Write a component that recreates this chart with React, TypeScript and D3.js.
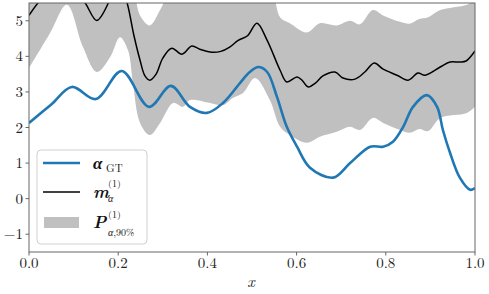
import React from 'react';
import * as d3 from 'd3';

// ground truth alpha
const alphaX = [0, 0.05, 0.096, 0.15, 0.208, 0.269, 0.318, 0.361, 0.399, 0.435, 0.473, 0.495, 0.514, 0.534, 0.556, 0.578, 0.601, 0.63, 0.682, 0.72, 0.765, 0.794, 0.816, 0.839, 0.861, 0.892, 0.915, 0.928, 0.944, 0.966, 0.989, 1.0];
const alphaY = [2.13, 2.65, 3.14, 2.8, 3.59, 2.58, 3.17, 2.58, 2.41, 2.69, 3.25, 3.56, 3.7, 3.56, 2.86, 2.02, 1.46, 0.87, 0.59, 1.0, 1.46, 1.46, 1.6, 2.02, 2.58, 2.91, 2.58, 1.93, 1.29, 0.59, 0.25, 0.3];

// posterior mean m
const meanX = [0, 0.02, 0.05, 0.1, 0.126, 0.152, 0.178, 0.19, 0.21, 0.22, 0.235, 0.249, 0.26, 0.271, 0.285, 0.3, 0.32, 0.343, 0.365, 0.383, 0.406, 0.43, 0.45, 0.469, 0.49, 0.511, 0.534, 0.563, 0.578, 0.601, 0.612, 0.626, 0.642, 0.659, 0.686, 0.704, 0.731, 0.753, 0.774, 0.794, 0.825, 0.85, 0.872, 0.888, 0.922, 0.944, 0.966, 0.98, 1.0];
const meanY = [5.15, 5.5, 5.9, 5.9, 5.5, 5.01, 5.5, 5.9, 5.8, 5.5, 4.6, 3.89, 3.45, 3.33, 3.5, 3.95, 4.23, 4.06, 4.29, 4.2, 4.12, 4.14, 4.26, 4.45, 4.58, 4.93, 4.45, 3.61, 3.28, 3.42, 3.33, 3.14, 3.25, 3.45, 3.56, 3.39, 3.36, 3.56, 3.81, 3.64, 3.47, 3.33, 3.53, 3.47, 3.7, 3.84, 3.84, 3.87, 4.15];

// 90% band
const bandX = [0, 0.047, 0.085, 0.121, 0.152, 0.182, 0.204, 0.222, 0.233, 0.249, 0.271, 0.294, 0.323, 0.345, 0.361, 0.406, 0.435, 0.457, 0.48, 0.507, 0.54, 0.563, 0.585, 0.623, 0.652, 0.69, 0.72, 0.742, 0.771, 0.794, 0.832, 0.854, 0.875, 0.895, 0.922, 0.982, 1.0];
const bandLow = [3.67, 4.65, 5.45, 4.26, 3.56, 3.98, 4.54, 4.17, 3.25, 2.13, 1.79, 2.13, 2.69, 2.58, 2.77, 2.69, 2.63, 2.83, 2.97, 3.39, 2.77, 2.02, 1.79, 1.57, 1.74, 1.88, 2.02, 1.93, 2.27, 2.13, 1.93, 1.85, 1.96, 1.9, 2.27, 2.41, 2.58];
const bandHigh = [6, 6, 6, 6, 6, 6, 6, 6, 5.9, 5.15, 4.87, 5.3, 6, 6, 6, 6, 6, 6, 6, 6, 6, 5.1, 4.93, 4.67, 4.93, 4.87, 5.0, 4.9, 5.3, 5.15, 4.97, 4.92, 5.05, 5.1, 5.3, 5.45, 5.6];

const xTicks = [0, 0.2, 0.4, 0.6, 0.8, 1.0];
const yTicks = [-1, 0, 1, 2, 3, 4, 5];

const W = 489;
const H = 294;
const M = { left: 29, right: 475, top: 3, bottom: 252 };
const SERIF = '"Latin Modern Roman", "CMU Serif", "Liberation Serif", "DejaVu Serif", serif';

export default function App() {
  const x = d3.scaleLinear().domain([0, 1]).range([M.left, M.right]);
  const y = d3.scaleLinear().domain([-1.5, 5.5]).range([M.bottom, M.top]);

  const band = d3.area<number>()
    .x((_, i) => x(bandX[i]))
    .y0((_, i) => y(bandLow[i]))
    .y1((_, i) => y(bandHigh[i]))
    .curve(d3.curveCatmullRom.alpha(0.5))(bandX);

  const meanPath = d3.line<number>()
    .x((_, i) => x(meanX[i]))
    .y((d) => y(d))
    .curve(d3.curveCatmullRom.alpha(0.5))(meanY);

  const alphaPath = d3.line<number>()
    .x((_, i) => x(alphaX[i]))
    .y((d) => y(d))
    .curve(d3.curveCatmullRom.alpha(0.5))(alphaY);

  const fmt = (v: number) => (v < 0 ? '\u2212' + Math.abs(v) : String(v));

  return (
    <svg width={W} height={H} style={{ position: 'absolute', left: 0, top: 0, background: '#fff' }}
      fontFamily={SERIF}>
      <defs>
        <clipPath id="plot">
          <rect x={M.left} y={M.top} width={M.right - M.left} height={M.bottom - M.top} />
        </clipPath>
      </defs>
      <g clipPath="url(#plot)">
        <path d={band || ''} fill="#c0c0c0" stroke="none" />
        <path d={alphaPath || ''} fill="none" stroke="#1f77b4" strokeWidth={2.6} />
        <path d={meanPath || ''} fill="none" stroke="#000" strokeWidth={1.5} />
      </g>
      <rect x={M.left} y={M.top} width={M.right - M.left} height={M.bottom - M.top}
        fill="none" stroke="#666" strokeWidth={1} />

      {xTicks.map((t) => (
        <g key={'x' + t}>
          <line x1={x(t)} x2={x(t)} y1={M.bottom} y2={M.bottom + 3.5} stroke="#666" />
          <text x={x(t)} y={268} textAnchor="middle" fontSize={15} fill="#222">{t.toFixed(1)}</text>
        </g>
      ))}
      {yTicks.map((t) => (
        <g key={'y' + t}>
          <line x1={M.left - 3.5} x2={M.left} y1={y(t)} y2={y(t)} stroke="#666" />
          <text x={23} y={y(t) + 5} textAnchor="end" fontSize={15} fill="#222">{fmt(t)}</text>
        </g>
      ))}
      <text x={251} y={287} textAnchor="middle" fontSize={16} fontStyle="italic" fill="#222">x</text>

      {/* legend */}
      <rect x={37} y={150} width={110} height={94} rx={4} fill="#fff" fillOpacity={0.8} stroke="#d0d0d0" />
      <line x1={43} x2={80} y1={163} y2={163} stroke="#1f77b4" strokeWidth={2.6} />
      <text x={93} y={169} fontSize={17} fontWeight="bold" fontStyle="italic" fill="#111">α</text>
      <text x={106} y={172} fontSize={11} fill="#111">GT</text>

      <line x1={43} x2={80} y1={192} y2={192} stroke="#000" strokeWidth={1.5} />
      <text x={93} y={198} fontSize={17} fontWeight="bold" fontStyle="italic" fill="#111">m</text>
      <text x={108} y={187} fontSize={10} fill="#111">(1)</text>
      <text x={108} y={202} fontSize={10} fontStyle="italic" fill="#111">α</text>

      <rect x={44} y={217} width={35} height={11} fill="#c0c0c0" />
      <text x={93} y={228} fontSize={17} fontWeight="bold" fontStyle="italic" fill="#111">P</text>
      <text x={108} y={218} fontSize={10} fill="#111">(1)</text>
      <text x={108} y={236} fontSize={10} fill="#111"><tspan fontStyle="italic">α</tspan>,90%</text>
    </svg>
  );
}
